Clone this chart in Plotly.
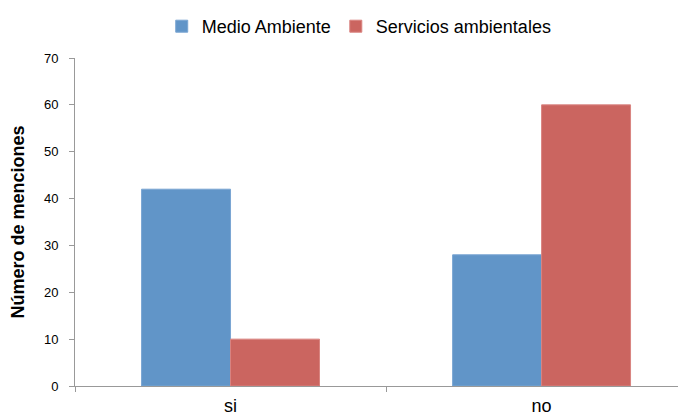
import plotly.graph_objects as go

categories = ["si", "no"]
medio_ambiente = [42, 28]
servicios_ambientales = [10, 60]
y_ticks = [0, 10, 20, 30, 40, 50, 60, 70]

fig = go.Figure()
fig.add_trace(go.Bar(name="Medio Ambiente", x=categories, y=medio_ambiente,
                     marker=dict(color="#6195C8", line=dict(color="#7AA6D3", width=1))))
fig.add_trace(go.Bar(name="Servicios ambientales", x=categories, y=servicios_ambientales,
                     marker=dict(color="#CB6560", line=dict(color="#D98480", width=1))))

# page has an 8px body margin, so the margins below are offset by that
fig.update_layout(
    width=686, height=416,
    margin=dict(l=67, r=0, t=50, b=38),
    plot_bgcolor="white", paper_bgcolor="white",
    barmode="group", bargap=0.428, bargroupgap=0,
    font=dict(family="Liberation Sans, Arial", color="#000000"),
    showlegend=True,
    legend=dict(orientation="h", xref="container", x=0.512, xanchor="center",
                yref="container", y=1.0, yanchor="top", font=dict(size=18),
                traceorder="normal", bgcolor="rgba(0,0,0,0)"),
)

fig.update_xaxes(
    type="category", range=[-0.5, 1.49], tickson="boundaries",
    ticks="outside", ticklen=5, tickcolor="#999999", tickwidth=1,
    showline=True, linecolor="#999999", linewidth=1,
    showgrid=False, tickfont=dict(size=18), ticklabelstandoff=3,
)
fig.update_yaxes(
    range=[0, 70], tickvals=y_ticks, ticks="outside", ticklen=5,
    tickcolor="#999999", showline=True, linecolor="#999999", linewidth=1,
    showgrid=False, zeroline=False, tickfont=dict(size=13),
    ticklabelstandoff=8,
    title=dict(text="<b>Número de menciones</b>", font=dict(size=18), standoff=14),
)

fig.write_html("out.html")
